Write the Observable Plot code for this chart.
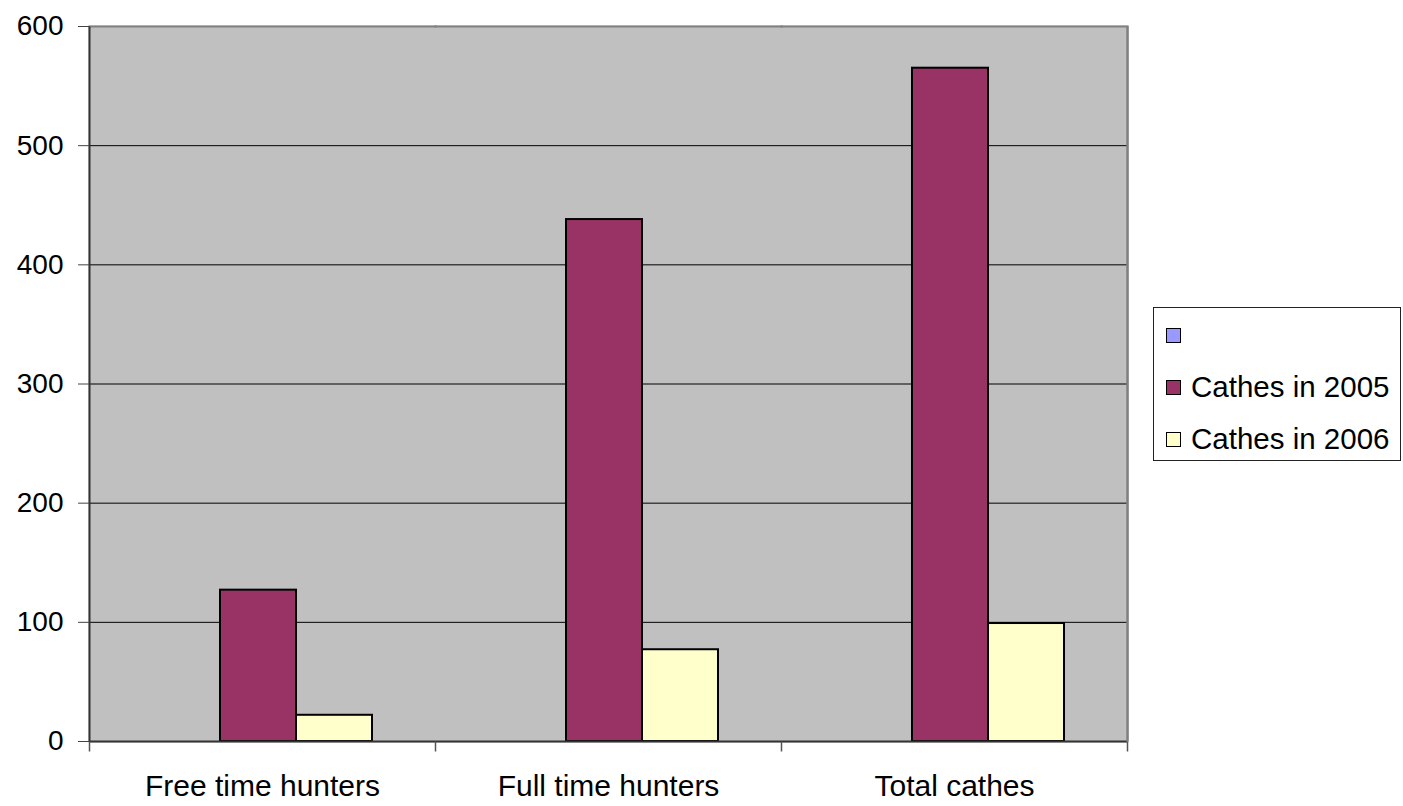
<!DOCTYPE html>
<html>
<head>
<meta charset="utf-8">
<script src="https://cdn.jsdelivr.net/npm/d3@7"></script>
<script src="https://cdn.jsdelivr.net/npm/@observablehq/plot@0.6"></script>
<style>
  html, body { margin: 0; padding: 0; background: #fff; }
  #wrap { position: relative; width: 1403px; height: 806px; font-family: "Liberation Sans", Arial, sans-serif; }
  #chart { position: absolute; left: 0; top: 0; }
  #legend { position: absolute; left: 1153px; top: 307px; width: 248px; height: 154px;
            border: 1px solid #222; background: #fff; box-sizing: border-box; padding-top: 1px; }
  .item { height: 52px; display: flex; align-items: center; padding-left: 12px; font-size: 29.5px; color: #000; }
  .sw { width: 13px; height: 13px; border: 1.5px solid #000; margin-right: 10px; flex: none; }
</style>
</head>
<body>
<div id="wrap">
  <div id="chart"></div>
  <div id="legend"></div>
</div>
<script>
const categories = ["Free time hunters", "Full time hunters", "Total cathes"];
const seriesNames = ["", "Cathes in 2005", "Cathes in 2006"];
const seriesColors = ["#9999FF", "#993366", "#FFFFCC"];
const valuesBlank = [null, null, null];
const values2005 = [127, 438, 565];
const values2006 = [22, 77, 99];
const yTicks = [0, 100, 200, 300, 400, 500, 600];

const seriesValues = [valuesBlank, values2005, values2006];
const data = categories.flatMap((c, i) =>
  seriesNames.map((s, j) => ({cat: c, series: s, value: seriesValues[j][i]}))
).filter(d => d.value != null);

const W = 1403, H = 806, ML = 88, MR = 275, MT = 26, MB = 65;
const frameH = H - MT - MB;
const vline = (len) => ({draw(ctx) { ctx.moveTo(0, 0); ctx.lineTo(0, len); }});
const first = [categories[0]];
const last = [categories[categories.length - 1]];

const plot = Plot.plot({
  width: W,
  height: H,
  marginLeft: ML,
  marginRight: MR,
  marginTop: MT,
  marginBottom: MB,
  style: {fontFamily: "'Liberation Sans', Arial, sans-serif", fontSize: "28px", background: "#fff", color: "#000"},
  fx: {domain: categories, padding: 0},
  x: {domain: seriesNames, paddingInner: 0, paddingOuter: 0.75, align: 0.47, axis: null},
  y: {domain: [0, 600]},
  color: {domain: seriesNames, range: seriesColors},
  marks: [
    Plot.frame({fill: "#C0C0C0", stroke: "#C0C0C0", strokeWidth: 2}),
    Plot.ruleY(yTicks.filter(v => v > 0 && v < 600), {stroke: "#000", strokeWidth: 1}),
    Plot.barY(data, {fx: "cat", x: "series", y: "value", fill: "series", stroke: "#000", strokeWidth: 2}),
    Plot.frame({anchor: "top", stroke: "#808080", strokeWidth: 2}),
    Plot.ruleY([0], {stroke: "#333", strokeWidth: 2}),
    Plot.dot(first, {fx: d => d, frameAnchor: "top-left", symbol: vline(frameH), fill: "none", stroke: "#333", strokeWidth: 2}),
    Plot.dot(last, {fx: d => d, frameAnchor: "top-right", symbol: vline(frameH), fill: "none", stroke: "#808080", strokeWidth: 2.5}),
    Plot.dot(categories, {fx: d => d, frameAnchor: "bottom-left", symbol: vline(10), fill: "none", stroke: "#555", strokeWidth: 1.5}),
    Plot.dot(last, {fx: d => d, frameAnchor: "bottom-right", symbol: vline(10), fill: "none", stroke: "#555", strokeWidth: 1.5}),
    Plot.axisY({ticks: yTicks, tickSize: 11, tickPadding: 15, fontSize: 28, label: null, stroke: "#444"}),
    Plot.axisFx({anchor: "bottom", tickSize: 0, tickPadding: 33, fontSize: 30, label: null})
  ]
});
document.getElementById("chart").appendChild(plot);

const legend = document.getElementById("legend");
seriesNames.forEach((name, i) => {
  const row = document.createElement("div");
  row.className = "item";
  const sw = document.createElement("span");
  sw.className = "sw";
  sw.style.background = seriesColors[i];
  const label = document.createElement("span");
  label.textContent = name;
  row.appendChild(sw);
  row.appendChild(label);
  legend.appendChild(row);
});
</script>
</body>
</html>
